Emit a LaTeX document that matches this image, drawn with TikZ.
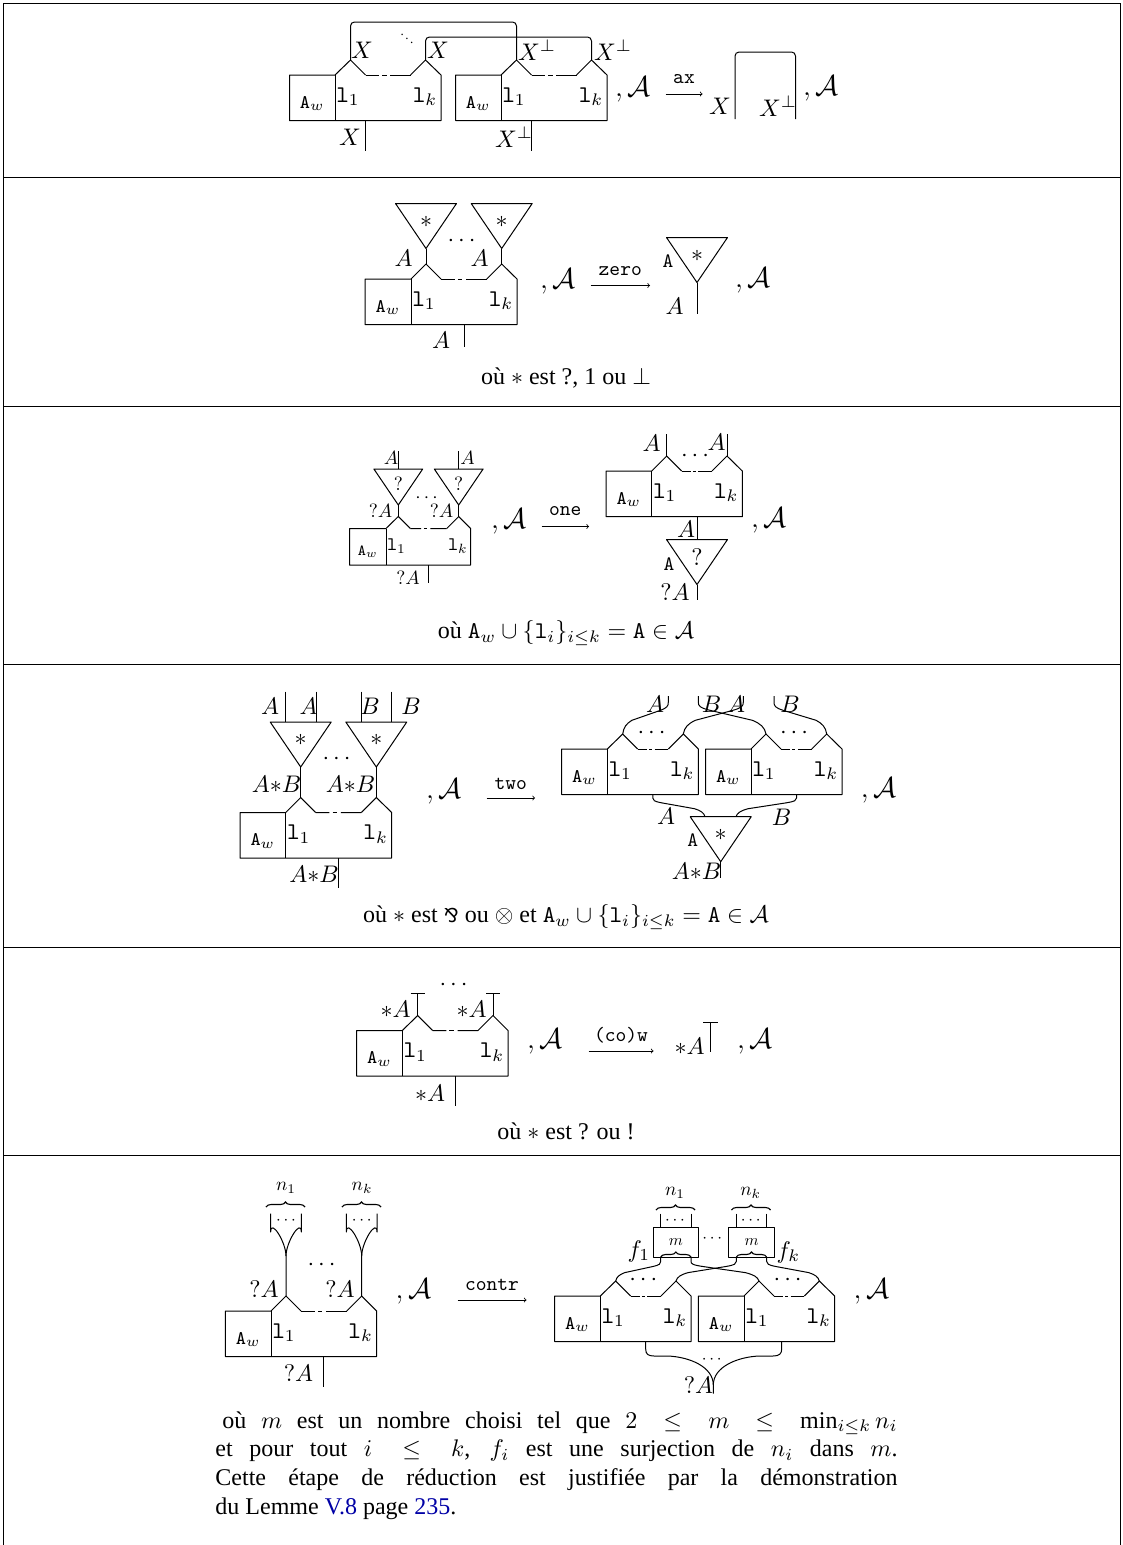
\documentclass[tikz,border=0pt]{standalone}
\usepackage{fontspec}
\setmainfont{Liberation Serif}
\newfontfamily\djvfont{DejaVu Sans}
\usetikzlibrary{calc,decorations.pathreplacing}
\definecolor{linkblue}{rgb}{0,0,0.65}
\tikzset{
  wire/.style={line width=1pt,line join=round},
  lab/.style={scale=2.4,inner sep=0pt},
  slab/.style={scale=1.92,inner sep=0pt},
  ttl/.style={scale=2.05,inner sep=0pt},
  sep/.style={line width=1pt},
  rarrow/.style={line width=.8pt,-to},
  bigbrace/.style={line width=1.1pt,decorate,decoration={brace,amplitude=5pt}}
}
% name, left, div, right, top, bottom, peak1x, peak2x, scale, (label style from scale)
\newcommand{\netbox}[9]{%
  \coordinate (#1-p1) at (#7,#5-15*#9);
  \coordinate (#1-p2) at (#8,#5-15*#9);
  \coordinate (#1-f1) at (#7+15*#9,#5);
  \coordinate (#1-f2) at (#8-15*#9,#5);
  \coordinate (#1-bot) at ({(#3+#4)/2},#6);
  \draw[wire] (#1-f1) -- (#1-p1) -- (#3,#5) -- (#2,#5) -- (#2,#6) -- (#4,#6) -- (#4,#5) -- (#1-p2) -- (#1-f2);
  \draw[wire] (#3,#5) -- (#3,#6);
  \draw[wire] (#1-f1) -- ($(#1-f1)!.3!(#1-f2)$);
  \draw[wire] ($(#1-f1)!.37!(#1-f2)$) -- ($(#1-f1)!.47!(#1-f2)$);
  \draw[wire] ($(#1-f1)!.55!(#1-f2)$) -- (#1-f2);
  \node[inner sep=0pt,scale=2.4*#9] (#1-aw) at ({(#2+#3)/2},{#5+28.5*#9}) {\footnotesize$\texttt{A}_w$};
  \node[inner sep=0pt,scale=2.4*#9] (#1-l1) at (#3+13*#9,{#5+21.5*#9}) {$\texttt{l}_1$};
  \node[inner sep=0pt,scale=2.4*#9] (#1-lk) at (#4-16*#9,{#5+21.5*#9}) {$\texttt{l}_k$};
}
% name, centre x, top, scale, symbol
\newcommand{\tricell}[5]{%
  \coordinate (#1-l) at (#2-30.5*#4,#3);
  \coordinate (#1-r) at (#2+30.5*#4,#3);
  \coordinate (#1-tip) at (#2,#3+45*#4);
  \draw[wire] (#1-l) -- (#1-r) -- (#1-tip) -- cycle;
  \node[inner sep=0pt,scale=2.4*#4] (#1-s) at (#2,#3+18*#4) {#5};
}
\newcommand{\lab}[5][lab]{\node[#1] (#2) at (#3,#4) {#5};}
\newcommand{\calA}[3]{\node[lab,anchor=base] (#1) at (#2,#3) {\large$,\mathcal{A}$};}
\newcommand{\reduc}[6]{% name, x1, x2, y, label, label-y
  \coordinate (#1-s) at (#2,#4);
  \coordinate (#1-e) at (#3,#4);
  \draw[rarrow] (#1-s) -- (#1-e);
  \node[ttl] (#1-t) at ({(#2+#3)/2},#6) {\texttt{#5}};
}
\newcommand{\swire}[2]{%
  \draw[wire] let \p1=(#1),\p2=(#2),\n1={\x2-\x1},\n2={\y2-\y1} in
    (\x1,\y1) .. controls ({\x1+0.02*\n1},{\y1+0.18*\n2}) and ({\x1+.08*\n1},{\y1+.27*\n2}) ..
    ({\x1+.2*\n1},{\y1+.36*\n2}) -- ({\x1+.82*\n1},{\y1+.62*\n2}) ..
    controls ({\x1+.98*\n1},{\y1+.69*\n2}) and ({\x2},{\y1+.74*\n2}) ..
    ({\x2},{\y1+.84*\n2}) -- (\x2,\y2);
}
\newcommand{\tree}[4]{% name, centre coordinate name, half-width, top y
  \coordinate (#1-a) at ($(#2)+(-#3,0)$);
  \draw[wire] let \p1=(#2) in (#2) -- ++(0,-40) .. controls ++(0,-14) and (\x1-#3 pt,-1232pt+14pt) .. (\x1-#3 pt,-1232pt) -- (\x1-#3 pt,-#4 pt);
  \draw[wire] let \p1=(#2) in ($(#2)+(0,-40)$) .. controls ++(0,-14) and (\x1+#3 pt,-1232pt+14pt) .. (\x1+#3 pt,-1232pt) -- (\x1+#3 pt,-#4 pt);
}
\begin{document}
\begin{tikzpicture}[x=1pt,y=-1pt]
\useasboundingbox (0,0) rectangle (1123,1545);
% frame
\coordinate (fa) at (3,1545); \coordinate (fb) at (3,3); \coordinate (fc) at (1120.5,3); \coordinate (fd) at (1120.5,1545);
\draw[sep] (fa) -- (fb) -- (fc) -- (fd);
\foreach \yy/\nn in {177/s1,406/s2,664/s3,947/s4,1155/s5}{
  \coordinate (\nn-l) at (3,\yy); \coordinate (\nn-r) at (1120.5,\yy);
  \draw[sep] (\nn-l) -- (\nn-r);
}
%%% panel 1
\netbox{pa}{289.5}{335}{441}{75}{120.5}{350.5}{425.5}{1}
\netbox{pb}{455.5}{501}{607}{75}{120.5}{516.5}{591.5}{1}
\draw[wire,rounded corners=4pt] (pa-p1) -- (350.5,22) -| (pb-p1);
\draw[wire,rounded corners=4pt] (pa-p2) -- (425.5,37) -| (pb-p2);
\node[scale=1.3,inner sep=0pt] (pdd) at (407,35) {$\ddots$};
\lab{pax}{362}{50}{$X$} \lab{pay}{438}{50}{$X$}
\lab{pbx}{537}{50}{$X^{\perp}$} \lab{pby}{613}{50}{$X^{\perp}$}
\coordinate (pa-w) at (365,120.5); \coordinate (pa-we) at (365,151);
\coordinate (pb-w) at (531,120.5); \coordinate (pb-we) at (531,151);
\draw[wire] (pa-w) -- (pa-we); \draw[wire] (pb-w) -- (pb-we);
\lab{pc}{350}{137}{$X$} \lab{pd}{514}{137}{$X^{\perp}$}
\calA{pe}{633}{96}
\reduc{par}{665.5}{702.5}{94}{ax}{79}
\coordinate (ax1) at (735,119); \coordinate (ax2) at (795.5,119);
\draw[wire,rounded corners=4pt] (ax1) -- (735,52) -| (ax2);
\lab{pf}{720}{106.5}{$X$} \lab{pg}{778}{106.5}{$X^{\perp}$}
\calA{ph}{821}{95}
%%% panel 2
\netbox{qa}{365}{411}{517}{279}{324.5}{426}{501.7}{1}
\tricell{qt1}{426}{203.5}{1}{$\ast$}
\tricell{qt2}{501.7}{203.5}{1}{$\ast$}
\draw[wire] (qa-p1) -- (qt1-tip); \draw[wire] (qa-p2) -- (qt2-tip);
\lab{qb}{403.5}{258}{$A$} \lab{qc}{479.5}{258}{$A$}
\lab{qd}{461.5}{241}{$\cdots$}
\coordinate (qa-we) at ($(qa-bot)+(0,22)$); \draw[wire] (qa-bot) -- (qa-we);
\lab{qe}{441}{340}{$A$}
\calA{qf}{558}{288}
\reduc{qr}{590.5}{650}{285.5}{zero}{271.5}
\tricell{qt3}{697}{237.5}{1}{$\ast$}
\coordinate (qt3-e) at (697,313.5); \draw[wire] (qt3-tip) -- (qt3-e);
\node[ttl] (qg) at (668,261.5) {\texttt{A}};
\lab{qh}{674.5}{306.5}{$A$}
\calA{qi}{753}{287}
\lab{qj}{566}{378}{où $\ast$ est ?, 1 ou $\perp$}
%%% panel 3
\netbox{ra}{349.5}{386}{470.7}{528.5}{565}{398.3}{458.7}{.8}
\tricell{rt1}{398.3}{469}{.8}{$?$}
\tricell{rt2}{458.7}{469}{.8}{$?$}
\draw[wire] (ra-p1) -- (rt1-tip); \draw[wire] (ra-p2) -- (rt2-tip);
\coordinate (rt1-e) at (398.3,451); \coordinate (rt2-e) at (458.7,451);
\draw[wire] (rt1-e) -- (398.3,469); \draw[wire] (rt2-e) -- (458.7,469);
\lab[slab]{rb}{391}{457.5}{$A$} \lab[slab]{rc}{467.5}{457.5}{$A$}
\lab[slab]{rd}{380.5}{511}{$?A$} \lab[slab]{re}{441.5}{511}{$?A$}
\lab[slab]{rf}{426.5}{498.5}{$\cdots$}
\coordinate (ra-we) at ($(ra-bot)+(0,18)$); \draw[wire] (ra-bot) -- (ra-we);
\lab[slab]{rg}{408}{578}{$?A$}
\calA{rh}{509}{528}
\reduc{rr}{541.5}{589}{526.5}{one}{511.5}
\netbox{rb2}{606}{651.7}{742.3}{471}{516.7}{666.7}{727}{1}
\coordinate (rw1) at (666.7,434); \coordinate (rw2) at (727,434);
\draw[wire] (rb2-p1) -- (rw1); \draw[wire] (rb2-p2) -- (rw2);
\lab{ri}{651.5}{443}{$A$} \lab{rj}{716.5}{442}{$A$}
\lab{rk}{695}{456}{$\cdots$}
\tricell{rt3}{697}{539.5}{1}{$?$}
\draw[wire] (rb2-bot) -- (697,539.5);
\coordinate (rt3-e) at (697,600); \draw[wire] (rt3-tip) -- (rt3-e);
\lab{rl}{686}{529.5}{$A$}
\node[ttl] (rm) at (669,564) {\texttt{A}};
\lab{rn}{675}{592.5}{$?A$}
\calA{ro}{769}{527}
\lab{rp}{566}{633}{où $\texttt{A}_w\cup\{\texttt{l}_i\}_{i\leq k}=\texttt{A}\in\mathcal{A}$}
%%% panel 4
\netbox{ta}{240}{285.7}{391.7}{812.5}{858}{300.7}{376.3}{1}
\tricell{tt1}{300.7}{722}{1}{$\ast$}
\tricell{tt2}{376.3}{722}{1}{$\ast$}
\draw[wire] (ta-p1) -- (tt1-tip); \draw[wire] (ta-p2) -- (tt2-tip);
\foreach \xx/\nn in {285.7/tw1,316/tw2,361/tw3,391.3/tw4}{
  \coordinate (\nn-a) at (\xx,691.5); \coordinate (\nn-b) at (\xx,722);
  \draw[wire] (\nn-a) -- (\nn-b);
}
\lab{tb}{270}{706.5}{$A$} \lab{tc}{308.5}{706.5}{$A$} \lab{td}{370}{706.5}{$B$} \lab{te}{411}{706.5}{$B$}
\lab{tf}{276.5}{784}{$A{\ast}B$} \lab{tg}{350.5}{784}{$A{\ast}B$}
\lab{th}{336.5}{759.5}{$\cdots$}
\coordinate (ta-we) at ($(ta-bot)+(0,30)$); \draw[wire] (ta-bot) -- (ta-we);
\lab{ti}{314}{874}{$A{\ast}B$}
\calA{tj}{444}{798}
\reduc{tr}{486.5}{535}{798}{two}{783.5}
\netbox{tk}{561.7}{607.3}{698.3}{749}{794.5}{622.7}{683.3}{1}
\netbox{tl}{705.7}{751}{842}{749}{794.5}{766}{826.7}{1}
\coordinate (te1) at (668.3,696); \coordinate (te2) at (743.3,696); \coordinate (te3) at (698.3,696); \coordinate (te4) at (774,696);
\swire{tk-p1}{te1} \swire{tk-p2}{te2} \swire{tl-p1}{te3} \swire{tl-p2}{te4}
\lab{tm}{655}{704}{$A$} \lab{tn}{711.5}{704}{$B$} \lab{to}{736}{704}{$A$} \lab{tp}{790}{704}{$B$}
\lab{tq}{651.5}{733.5}{$\cdots$} \lab{ts}{794}{733.5}{$\cdots$}
\tricell{tt3}{720.7}{816.7}{1}{$\ast$}
\coordinate (tt3-a) at (705,816.7); \coordinate (tt3-b) at (736,816.7);
\swire{tt3-a}{tk-bot} \swire{tt3-b}{tl-bot}
\coordinate (tt3-e) at (720.7,877.5); \draw[wire] (tt3-tip) -- (tt3-e);
\lab{tu}{666}{816.5}{$A$} \lab{tv}{781.5}{817.5}{$B$}
\node[ttl] (tw) at (692.7,840.5) {\texttt{A}};
\lab{tx}{696.5}{871}{$A{\ast}B$}
\calA{ty}{878.7}{797.5}
\lab{tz}{566}{917}{où $\ast$ est {\djvfont\footnotesize ⅋} ou $\otimes$ et $\texttt{A}_w\cup\{\texttt{l}_i\}_{i\leq k}=\texttt{A}\in\mathcal{A}$}
%%% panel 5
\netbox{ua}{356.7}{402.3}{508}{1030.5}{1076}{417.7}{493}{1}
\coordinate (ua-t1) at (417.7,993); \coordinate (ua-t2) at (493,993);
\draw[wire] (ua-p1) -- (ua-t1); \draw[wire] (ua-p2) -- (ua-t2);
\draw[wire] (410.7,993) -- (424.7,993); \draw[wire] (486,993) -- (500.3,993);
\lab{ub}{453.5}{985.5}{$\cdots$}
\lab{uc}{395.5}{1009.5}{$\ast A$} \lab{ud}{471.5}{1009.5}{$\ast A$}
\coordinate (ua-we) at ($(ua-bot)+(0,30)$); \draw[wire] (ua-bot) -- (ua-we);
\lab{ue}{430}{1093.5}{$\ast A$}
\calA{uf}{545}{1048}
\reduc{ur}{588.5}{653.5}{1051}{(co)w}{1035}
\lab{ug}{689.5}{1046.5}{$\ast A$}
\coordinate (uh1) at (710,1051.5); \coordinate (uh2) at (710,1022);
\draw[wire] (uh1) -- (uh2); \draw[wire] (703.3,1022) -- (717.7,1022);
\calA{ui}{755}{1048}
\lab{uj}{566}{1131.5}{où $\ast$ est ? ou !}
%%% panel 6
\netbox{va}{225.3}{271}{376.7}{1311}{1356.5}{286}{361.7}{1}
\tree{vt1}{va-p1}{15.3}{1213.5}
\tree{vt2}{va-p2}{15.3}{1213.5}
\draw[bigbrace] (266,1207) -- (305,1207);
\draw[bigbrace] (342,1207) -- (381,1207);
\node[scale=1.9,inner sep=0pt] (vb) at (286,1188) {$n_1$};
\node[scale=1.9,inner sep=0pt] (vc) at (362,1188) {$n_k$};
\node[scale=1.7,inner sep=0pt] (vd) at (286,1221) {$\cdots$};
\node[scale=1.7,inner sep=0pt] (ve) at (361.7,1221) {$\cdots$};
\lab{vf}{321.5}{1265.5}{$\cdots$}
\lab{vg}{264}{1289.5}{$?A$} \lab{vh}{340}{1289.5}{$?A$}
\coordinate (va-we) at ($(va-bot)+(0,30)$); \draw[wire] (va-bot) -- (va-we);
\lab{vi}{298.5}{1373.5}{$?A$}
\calA{vj}{413.5}{1298}
\reduc{vr}{457.5}{526.5}{1300}{contr}{1285}
\netbox{wa}{554.7}{600.3}{691}{1296}{1341.5}{615.7}{676}{1}
\netbox{wb}{698.3}{744}{834.7}{1296}{1341.5}{759}{819.3}{1}
\coordinate (f1-a) at (660.7,1257.7); \coordinate (f1-b) at (691,1257.7);
\coordinate (f2-a) at (736.3,1257.7); \coordinate (f2-b) at (766.7,1257.7);
\draw[wire] (653,1227.5) rectangle (698.3,1257.7);
\draw[wire] (728.7,1227.5) rectangle (774.3,1257.7);
\draw[wire] (660.7,1213.5) -- (660.7,1227.5); \draw[wire] (691,1213.5) -- (691,1227.5);
\draw[wire] (736.3,1213.5) -- (736.3,1227.5); \draw[wire] (766.7,1213.5) -- (766.7,1227.5);
\draw[bigbrace] (656,1210) -- (695,1210);
\draw[bigbrace] (731.5,1210) -- (770.5,1210);
\draw[bigbrace] (660.7,1257) -- (691,1257);
\draw[bigbrace] (736.3,1257) -- (766.7,1257);
\node[scale=1.9,inner sep=0pt] (wc) at (675,1193) {$n_1$};
\node[scale=1.9,inner sep=0pt] (wd) at (750.7,1193) {$n_k$};
\node[scale=1.7,inner sep=0pt] (we) at (675,1220.5) {$\cdots$};
\node[scale=1.7,inner sep=0pt] (wf) at (750.7,1220.5) {$\cdots$};
\node[scale=1.6,inner sep=0pt] (wg) at (676,1242) {$m$};
\node[scale=1.6,inner sep=0pt] (wh) at (751.7,1242) {$m$};
\node[scale=1.7,inner sep=0pt] (wi) at (712.3,1238.5) {$\cdots$};
\lab{wj}{639}{1251}{$f_1$} \lab{wk}{788.5}{1252}{$f_k$}
\swire{wa-p1}{f1-a} \swire{wa-p2}{f2-a} \swire{wb-p1}{f1-b} \swire{wb-p2}{f2-b}
\lab{wl}{643.3}{1280.5}{$\cdots$} \lab{wm}{787.7}{1280.5}{$\cdots$}
\coordinate (wq) at (713.3,1393.5);
\coordinate (wa-w) at (645.7,1341.5); \coordinate (wb-w) at (781.7,1341.5);
\draw[wire] (wa-w) -- (645.7,1349) .. controls (645.7,1354) and (648,1356) .. (654,1356) -- (668,1356)
   .. controls (690,1357) and (713.3,1367) .. (713.3,1385) -- (wq);
\draw[wire] (wb-w) -- (781.7,1349) .. controls (781.7,1354) and (779,1356) .. (773,1356) -- (759,1356)
   .. controls (737,1357) and (713.3,1367) .. (713.3,1385);
\node[scale=1.7,inner sep=0pt] (wn) at (711.7,1360) {$\cdots$};
\lab{wo}{698.5}{1385}{$?A$}
\calA{wp}{871.5}{1298}
\node[scale=2.4,inner sep=0pt,anchor=north west,text width=284.2pt,align=justify] (wr) at (215,1411)
 {\hspace*{1mm}où $m$ est un nombre choisi tel que $2\leq m\leq\min_{i\leq k}n_i$\linebreak
  et pour tout $i\leq k$, $f_i$ est une surjection de $n_i$ dans $m$.\linebreak
  Cette étape de réduction est justifiée par la démonstration\linebreak
  du Lemme \textcolor{linkblue}{V.8} page \textcolor{linkblue}{235}.};
\end{tikzpicture}
\end{document}
